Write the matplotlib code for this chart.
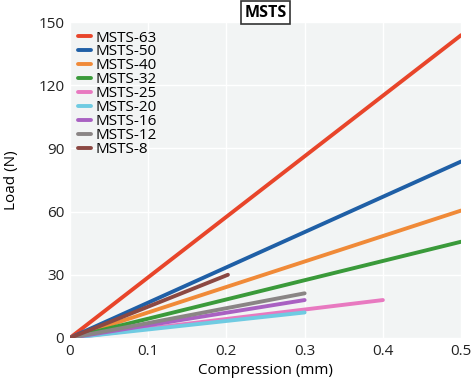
import numpy as np
import matplotlib.pyplot as plt

plt.rcParams['font.family'] = ['Open Sans', 'DejaVu Sans']

labels = ["MSTS-63", "MSTS-50", "MSTS-40", "MSTS-32", "MSTS-25",
          "MSTS-20", "MSTS-16", "MSTS-12", "MSTS-8"]
colors = ["#e8452a", "#1f5fa6", "#f08a38", "#3a9a3a", "#e879c0",
          "#6fcbe2", "#a961c2", "#8a8585", "#8b4842"]
x_end = [0.5, 0.5, 0.5, 0.5, 0.4, 0.3, 0.3, 0.3, 0.202]
y_end = [143.8, 83.8, 60.5, 45.7, 18.0, 12.1, 18.0, 21.2, 30.0]

fig = plt.figure(figsize=(4.72, 3.81), dpi=100, facecolor="white")
ax = fig.add_axes([0.148, 0.113, 0.829, 0.829])
ax.set_facecolor("#f2f4f4")

for lab, c, xe, ye in zip(labels, colors, x_end, y_end):
    ax.plot([0, xe], [0, ye], color=c, lw=2.8, label=lab, solid_capstyle="round")

ax.set_xlim(0, 0.5)
ax.set_ylim(0, 150)
ax.set_xticks([0, 0.1, 0.2, 0.3, 0.4, 0.5])
ax.set_xticklabels(["0", "0.1", "0.2", "0.3", "0.4", "0.5"])
ax.set_yticks([0, 30, 60, 90, 120, 150])
ax.grid(True, color="white", lw=1)
ax.set_axisbelow(True)
for s in ax.spines.values():
    s.set_visible(False)
ax.tick_params(length=0, labelsize=11, colors="#222222", pad=4)

ax.set_xlabel("Compression (mm)", fontsize=11, labelpad=3)
ax.set_ylabel("Load (N)", fontsize=11, labelpad=14)
ax.set_title("MSTS", fontsize=11.5, fontweight="bold", pad=4,
             bbox=dict(boxstyle="square,pad=0.2", fc="white", ec="#333333", lw=1.2))

ax.legend(loc="upper left", frameon=False, fontsize=11, handlelength=0.85,
          handletextpad=0.3, labelspacing=-0.07, borderaxespad=0.3, borderpad=0.25)

fig.savefig("out.png", dpi=100)
